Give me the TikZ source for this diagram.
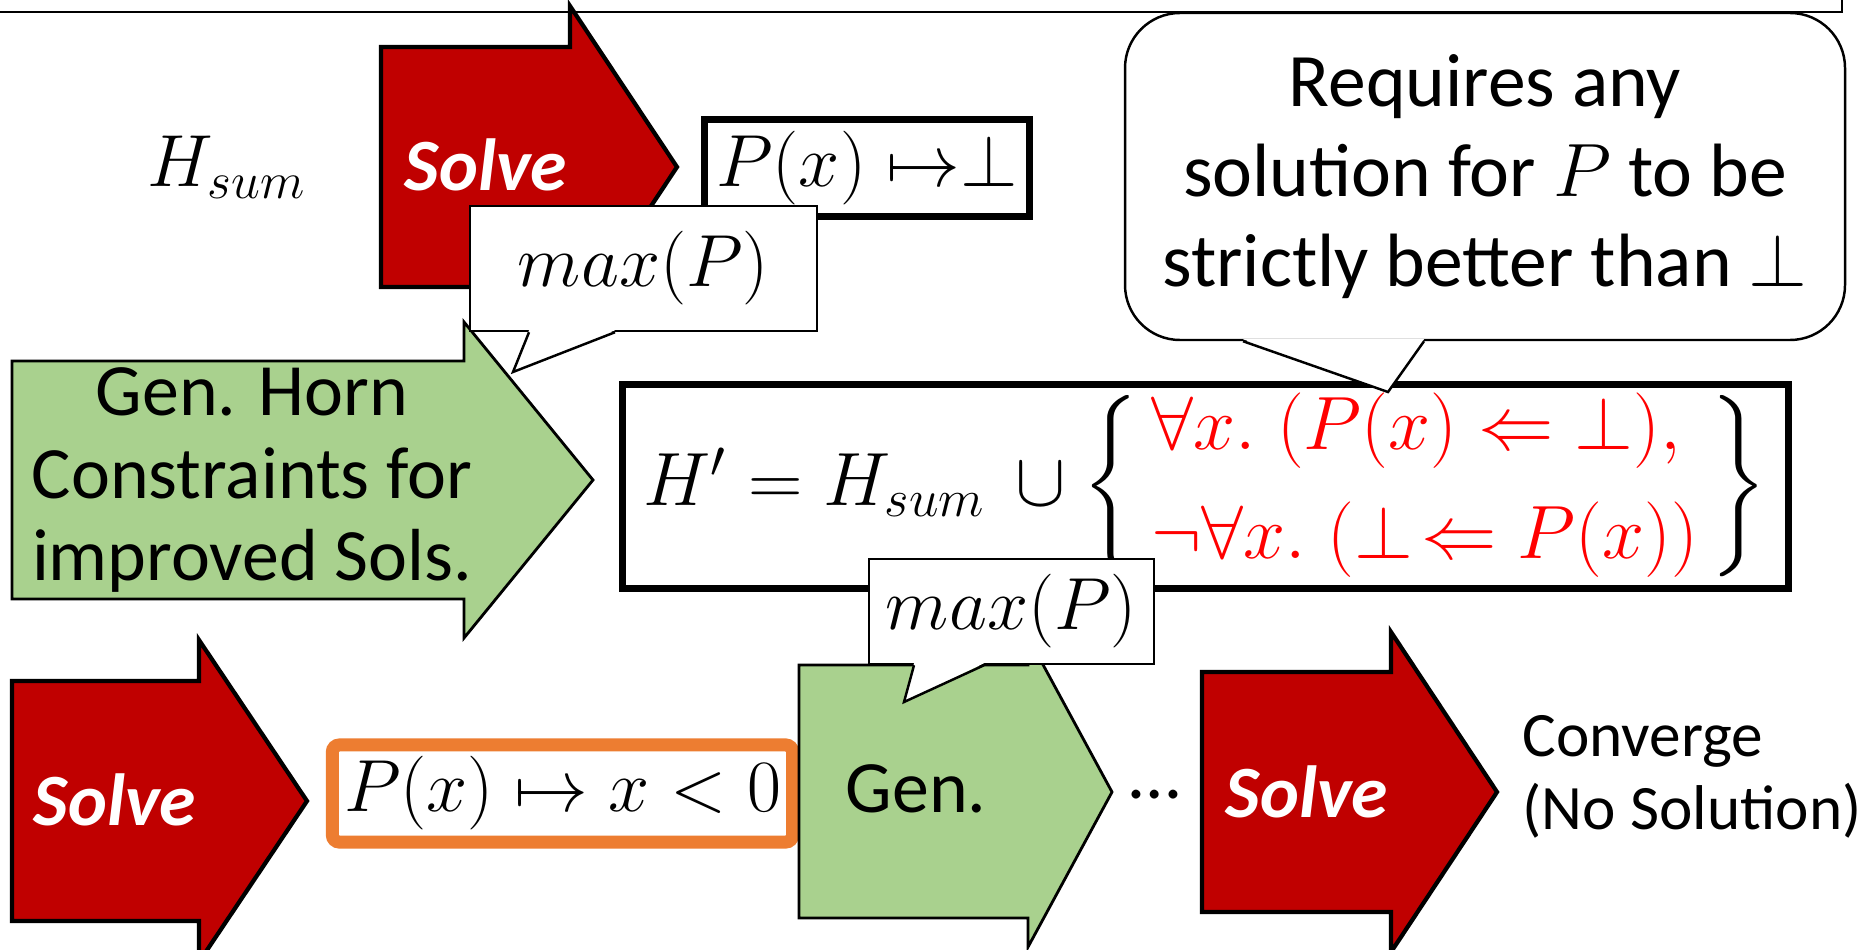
\RequirePackage{fix-cm}
\documentclass[tikz,border=0pt]{standalone}
\usepackage{amsmath,amssymb}
\usepackage[no-math]{fontspec}
\setmainfont{Carlito}
\usepackage{tikz}
\definecolor{solvered}{HTML}{C00000}
\definecolor{gengreen}{HTML}{A9D18E}
\definecolor{solorange}{HTML}{ED7D31}

\begin{document}
\begin{tikzpicture}[scale=1.0,
  solvearrow/.style={fill=solvered,draw=black,line width=1.2pt},
  genarrow/.style={fill=gengreen,draw=black,line width=0.8pt},
  callout/.style={fill=white,draw=black,line width=0.7pt},
  pointer/.style={black,line width=0.7pt},
  solvetxt/.style={text=white,font=\fontsize{21}{25}\selectfont\bfseries\itshape},
  bigtxt/.style={font=\fontsize{21}{25}\selectfont},
  fmbox/.style={draw=black,line width=2pt,fill=white}]
\useasboundingbox (0,0) rectangle (18.66,9.49);
\draw[line width=0.8pt] (0,9.37) -- (18.42,9.37) -- (18.42,9.49);

\draw[solvearrow] (3.81,6.62) -- (3.81,9.02) -- (5.70,9.02) -- (5.70,9.43) -- (6.77,7.82) -- (5.70,6.21) -- (5.70,6.62) -- cycle;
\node[solvetxt] (solvea) at (4.86,7.84) {Solve};
\node[bigtxt,anchor=base] (hsum) at (2.27,7.62) {$H_{sum}$};
\node[fmbox,minimum width=3.05cm,minimum height=0.89cm,bigtxt] (pbot) at (8.67,7.81) {$P(x)\;{\mapsto}{\bot}$};

\draw[genarrow] (0.12,3.50) -- (0.12,5.88) -- (4.64,5.88) -- (4.64,6.27) -- (5.93,4.69) -- (4.64,3.11) -- (4.64,3.50) -- cycle;
\node[font=\fontsize{21}{23.5}\selectfont,align=center] (horn) at (2.52,4.69) {Gen. Horn\\Constraints for\\improved Sols.};

\node[callout,minimum width=3.47cm,minimum height=1.25cm,bigtxt] (maxa) at (6.435,6.805) {$max(P)$};
\coordinate (maxatip) at (5.13,5.77);
\fill[white] ([xshift=-1.145cm,yshift=0.02cm]maxa.south) -- (maxatip) -- ([xshift=-0.285cm,yshift=0.02cm]maxa.south) -- cycle;
\draw[pointer] ([xshift=-1.145cm]maxa.south) -- (maxatip) -- ([xshift=-0.285cm]maxa.south);

\node[fmbox,minimum width=11.66cm,minimum height=2.00cm,inner sep=1pt,font=\fontsize{21.5}{25}\selectfont] (hprime) at (12.055,4.625)
  {$H' = H_{sum} \,\cup \left\{\begin{array}{@{\,}l@{\,}}\color{red}\forall x.\;(P(x) \Leftarrow \bot),\\[6pt] \color{red}\neg\forall x.\;(\bot\!\Leftarrow P(x))\end{array}\right\}$};

\node[callout,rounded corners=0.55cm,minimum width=7.20cm,minimum height=3.27cm,align=center,font=\fontsize{21.5}{25.5}\selectfont] (req) at (14.85,7.725) {Requires any\\solution for $P$ to be\\strictly better than $\bot$};
\coordinate (reqtip) at (13.88,5.57);
\fill[white] ([xshift=-2.42cm,yshift=0.02cm]req.south) -- (reqtip) -- ([xshift=-0.61cm,yshift=0.02cm]req.south) -- cycle;
\draw[pointer] ([xshift=-2.42cm]req.south) -- (reqtip) -- ([xshift=-0.61cm]req.south);

\draw[solvearrow] (0.12,0.28) -- (0.12,2.68) -- (1.99,2.68) -- (1.99,3.09) -- (3.07,1.48) -- (1.99,-0.13) -- (1.99,0.28) -- cycle;
\node[solvetxt] (solveb) at (1.15,1.49) {Solve};
\node[draw=solorange,line width=3.7pt,rounded corners=2pt,fill=white,minimum width=4.60cm,minimum height=0.86cm,bigtxt] (pneg) at (5.625,1.555) {$P(x) \mapsto x < 0$};

\draw[genarrow] (7.99,0.31) -- (7.99,2.84) -- (10.28,2.84) -- (10.28,3.12) -- (11.12,1.57) -- (10.28,0.02) -- (10.28,0.31) -- cycle;
\node[bigtxt] (gen) at (9.16,1.60) {Gen.};

\node[callout,minimum width=2.85cm,minimum height=1.05cm,bigtxt] (maxb) at (10.115,3.375) {$max(P)$};
\coordinate (maxbtip) at (9.04,2.47);
\fill[white] ([xshift=-0.975cm,yshift=0.02cm]maxb.south) -- (maxbtip) -- ([xshift=-0.275cm,yshift=0.02cm]maxb.south) -- cycle;
\draw[pointer] ([xshift=-0.975cm]maxb.south) -- (maxbtip) -- ([xshift=-0.275cm]maxb.south);

\node[bigtxt,anchor=base] (dots) at (11.55,1.51) {\dots};

\draw[solvearrow] (12.02,0.37) -- (12.02,2.77) -- (13.91,2.77) -- (13.91,3.17) -- (14.97,1.57) -- (13.91,-0.03) -- (13.91,0.37) -- cycle;
\node[solvetxt] (solvec) at (13.07,1.57) {Solve};
\node[font=\fontsize{18}{20.7}\selectfont,align=left,anchor=west,inner sep=0pt] (conv) at (15.22,1.725) {Converge\\(No Solution)};
\end{tikzpicture}
\end{document}
